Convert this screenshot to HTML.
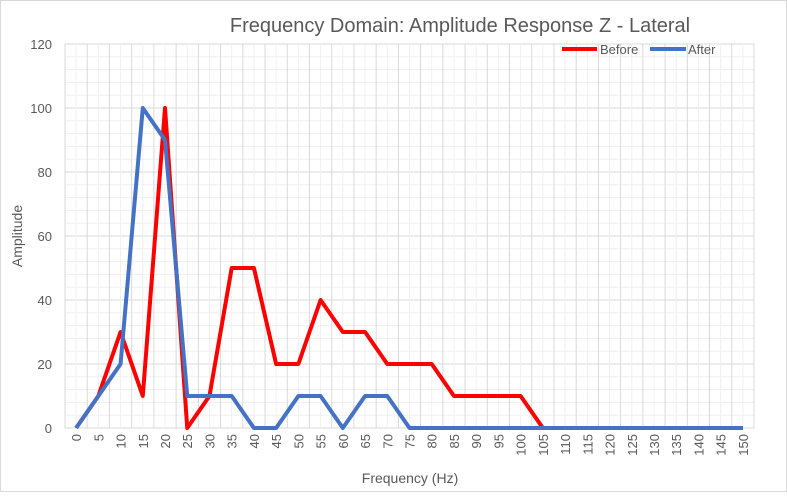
<!DOCTYPE html>
<html><head><meta charset="utf-8"><style>
body{margin:0;background:#fff;font-family:"Liberation Sans",sans-serif}
svg text{font-family:"Liberation Sans",sans-serif;fill:#595959}
</style></head><body>
<svg id="chart" width="787" height="492" xmlns="http://www.w3.org/2000/svg">
<rect x="0.5" y="0.5" width="786" height="491" fill="#fff" stroke="#d9d9d9"/>
<text x="460" y="32" font-size="20" text-anchor="middle">Frequency Domain: Amplitude Response Z - Lateral</text>
<g id="grid"></g>
<g id="yticks"></g>
<g id="xticks"></g>
<g id="series"></g>
<text transform="translate(22,236) rotate(-90)" font-size="14" text-anchor="middle">Amplitude</text>
<text x="410" y="483" font-size="14" text-anchor="middle">Frequency (Hz)</text>
<g>
<g><line x1="562" y1="49" x2="597" y2="49" stroke="#ff0000" stroke-width="4"/><text x="600" y="54" font-size="13">Before</text></g>
<g><line x1="650" y1="49" x2="686" y2="49" stroke="#4472c4" stroke-width="4"/><text x="688" y="54" font-size="13">After</text></g>
</g>
</svg>
<script>
const categories=[0,5,10,15,20,25,30,35,40,45,50,55,60,65,70,75,80,85,90,95,100,105,110,115,120,125,130,135,140,145,150];
const before=[0,10,30,10,100,0,10,50,50,20,20,40,30,30,20,20,20,10,10,10,10,0,0,0,0,0,0,0,0,0,0];
const after=[0,10,20,100,90,10,10,10,0,0,10,10,0,10,10,0,0,0,0,0,0,0,0,0,0,0,0,0,0,0,0];
const yTicks=[0,20,40,60,80,100,120];
const NS="http://www.w3.org/2000/svg";
const L=65,R=754,T=44,B=428,yMax=120;
const step=(R-L)/categories.length;
const x=i=>L+step*(i+0.5);
const y=v=>B-(v/yMax)*(B-T);
const grid=document.getElementById('grid');
function ln(g,x1,y1,x2,y2,c,w){const e=document.createElementNS(NS,'line');e.setAttribute('x1',x1);e.setAttribute('y1',y1);e.setAttribute('x2',x2);e.setAttribute('y2',y2);e.setAttribute('stroke',c);e.setAttribute('stroke-width',w);g.appendChild(e);return e;}
for(let v=0;v<=yMax;v+=4){const e=ln(grid,L,y(v),R,y(v),v%20===0?'#d9d9d9':'#f0f0f0',1);

}
for(let i=0;i<=categories.length;i++){const e=ln(grid,L+step*i,T,L+step*i,B,'#d9d9d9',1);


if(i<categories.length){const m=ln(grid,L+step*(i+0.5),T,L+step*(i+0.5),B,'#f0f0f0',1);

}}
const yt=document.getElementById('yticks');
yTicks.forEach(v=>{const t=document.createElementNS(NS,'text');t.setAttribute('x',52);t.setAttribute('y',y(v)+5);t.setAttribute('font-size','13');t.setAttribute('text-anchor','end');t.textContent=v;


yt.appendChild(t);});
const xt=document.getElementById('xticks');
categories.forEach((c,i)=>{const t=document.createElementNS(NS,'text');t.setAttribute('transform',`translate(${x(i)+5},434) rotate(-90)`);t.setAttribute('font-size','13');t.setAttribute('text-anchor','end');t.textContent=c;


xt.appendChild(t);});
const sg=document.getElementById('series');
function series(data,color,name){const p=document.createElementNS(NS,'polyline');p.setAttribute('points',data.map((v,i)=>x(i)+','+y(v)).join(' '));p.setAttribute('fill','none');p.setAttribute('stroke',color);p.setAttribute('stroke-width','4');p.setAttribute('stroke-linejoin','round');


sg.appendChild(p);}
series(before,'#ff0000','before-line');
series(after,'#4472c4','after-line');
</script>
</body></html>
